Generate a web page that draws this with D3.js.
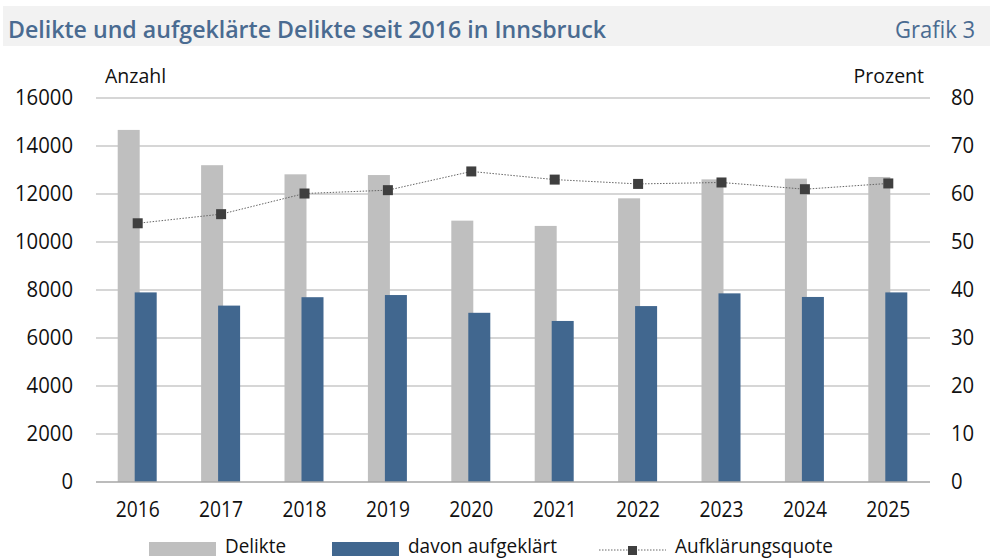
<!DOCTYPE html>
<html>
<head>
<meta charset="utf-8">
<script src="https://cdn.jsdelivr.net/npm/d3@7"></script>
<style>
  body { margin: 0; background: #fff; }
  svg { display: block; }
</style>
</head>
<body>
<svg id="chart" width="990" height="559"></svg>
<script>
// data
var years = ["2016", "2017", "2018", "2019", "2020", "2021", "2022", "2023", "2024", "2025"];
var delikte = [14670, 13200, 12820, 12790, 10890, 10670, 11820, 12610, 12640, 12710];
var aufgeklaert = [7900, 7350, 7700, 7790, 7050, 6710, 7330, 7860, 7710, 7900];
var quote = [53.9, 55.8, 60.1, 60.8, 64.7, 63.0, 62.1, 62.4, 61.0, 62.2];
var leftTicks = [0, 2000, 4000, 6000, 8000, 10000, 12000, 14000, 16000];
var rightTicks = [0, 10, 20, 30, 40, 50, 60, 70, 80];

var svg = d3.select("#chart");
var font = "'Open Sans', 'Noto Sans', sans-serif";
var blue = "#41678f";
var grey = "#bfbfbf";
var ink = "#111";

// squeeze text a bit, the original uses a condensed face
function squeeze(sel, perChar) {
  sel.attr("textLength", function() { return this.textContent.length * perChar; })
    .attr("lengthAdjust", "spacingAndGlyphs");
}

// header band
svg.append("rect").attr("x", 3).attr("y", 6).attr("width", 987).attr("height", 40).attr("fill", "#f2f2f2");
svg.append("text").attr("x", 8).attr("y", 38)
  .attr("font-family", font).attr("font-size", 24).attr("font-weight", 600)
  .attr("fill", "#4a6b91")
  .attr("textLength", 598).attr("lengthAdjust", "spacingAndGlyphs")
  .text("Delikte und aufgeklärte Delikte seit 2016 in Innsbruck");
svg.append("text").attr("x", 975).attr("y", 38).attr("text-anchor", "end")
  .attr("font-family", font).attr("font-size", 23)
  .attr("fill", "#4a6b91")
  .attr("textLength", 80).attr("lengthAdjust", "spacingAndGlyphs")
  .text("Grafik 3");

var x = d3.scaleBand().domain(years).range([96, 930]);
var yL = d3.scaleLinear().domain([0, 16000]).range([482, 98]);
var yR = d3.scaleLinear().domain([0, 80]).range([482, 98]);

// gridlines
svg.append("g").selectAll("line").data(leftTicks.slice(1)).join("line")
  .attr("x1", 96).attr("x2", 930)
  .attr("y1", function(d) { return yL(d); }).attr("y2", function(d) { return yL(d); })
  .attr("stroke", "#c8c8c8").attr("stroke-width", 1.5);

// left axis
var axL = svg.append("g").attr("transform", "translate(96,0)")
  .call(d3.axisLeft(yL).tickValues(leftTicks).tickSize(0).tickPadding(23).tickFormat(d3.format("d")));
axL.select(".domain").remove();
axL.selectAll("text").attr("font-family", font).attr("font-size", 21).attr("fill", ink).call(squeeze, 11.6);

// right axis
var axR = svg.append("g").attr("transform", "translate(930,0)")
  .call(d3.axisRight(yR).tickValues(rightTicks).tickSize(0).tickPadding(21));
axR.select(".domain").remove();
axR.selectAll("text").attr("font-family", font).attr("font-size", 21).attr("fill", ink).call(squeeze, 11.6);

svg.append("text").attr("x", 105).attr("y", 83).attr("font-family", font).attr("font-size", 19.5)
  .attr("fill", ink).text("Anzahl");
svg.append("text").attr("x", 924).attr("y", 83).attr("text-anchor", "end").attr("font-family", font)
  .attr("font-size", 19.5).attr("fill", ink).text("Prozent");

// bars
var bw = 22;
svg.append("g").selectAll("rect").data(years).join("rect")
  .attr("x", function(d) { return x(d) + x.bandwidth() / 2 - 20; })
  .attr("y", function(d, i) { return yL(delikte[i]); })
  .attr("width", bw)
  .attr("height", function(d, i) { return yL(0) - yL(delikte[i]); })
  .attr("fill", grey);

svg.append("g").selectAll("rect").data(years).join("rect")
  .attr("x", function(d) { return x(d) + x.bandwidth() / 2 - 3; })
  .attr("y", function(d, i) { return yL(aufgeklaert[i]); })
  .attr("width", bw)
  .attr("height", function(d, i) { return yL(0) - yL(aufgeklaert[i]); })
  .attr("fill", blue);

// baseline
svg.append("line").attr("x1", 96).attr("x2", 930).attr("y1", yL(0)).attr("y2", yL(0))
  .attr("stroke", "#a6a6a6").attr("stroke-width", 1.5);

// x labels
var axX = svg.append("g").attr("transform", "translate(0,482)")
  .call(d3.axisBottom(x).tickSize(0).tickPadding(20));
axX.select(".domain").remove();
axX.selectAll("text").attr("font-family", font).attr("font-size", 21).attr("fill", ink).call(squeeze, 11);

// quote line
var line = d3.line()
  .x(function(d, i) { return x(years[i]) + x.bandwidth() / 2; })
  .y(function(d) { return yR(d); });
svg.append("path").datum(quote).attr("d", line)
  .attr("fill", "none").attr("stroke", "#666").attr("stroke-width", 1).attr("stroke-dasharray", "1.5,1.5");
svg.append("g").selectAll("rect").data(quote).join("rect")
  .attr("x", function(d, i) { return x(years[i]) + x.bandwidth() / 2 - 5; })
  .attr("y", function(d) { return yR(d) - 5; })
  .attr("width", 10).attr("height", 10).attr("fill", "#3f3f3f");

// legend
var lg = svg.append("g");
lg.append("rect").attr("x", 149).attr("y", 542).attr("width", 67).attr("height", 14).attr("fill", grey);
lg.append("text").attr("x", 225).attr("y", 553).attr("font-family", font).attr("font-size", 20.5)
  .attr("fill", ink).attr("textLength", 61).attr("lengthAdjust", "spacingAndGlyphs").text("Delikte");
lg.append("rect").attr("x", 332).attr("y", 542).attr("width", 67).attr("height", 14).attr("fill", blue);
lg.append("text").attr("x", 408).attr("y", 553).attr("font-family", font).attr("font-size", 20.5)
  .attr("fill", ink).attr("textLength", 149).attr("lengthAdjust", "spacingAndGlyphs").text("davon aufgeklärt");
lg.append("line").attr("x1", 599).attr("x2", 666).attr("y1", 550).attr("y2", 550)
  .attr("stroke", "#666").attr("stroke-width", 1).attr("stroke-dasharray", "1.5,1.5");
lg.append("rect").attr("x", 628).attr("y", 546).attr("width", 9).attr("height", 9).attr("fill", "#3f3f3f");
lg.append("text").attr("x", 675).attr("y", 553).attr("font-family", font).attr("font-size", 20.5)
  .attr("fill", ink).attr("textLength", 158).attr("lengthAdjust", "spacingAndGlyphs").text("Aufklärungsquote");
</script>
</body>
</html>
